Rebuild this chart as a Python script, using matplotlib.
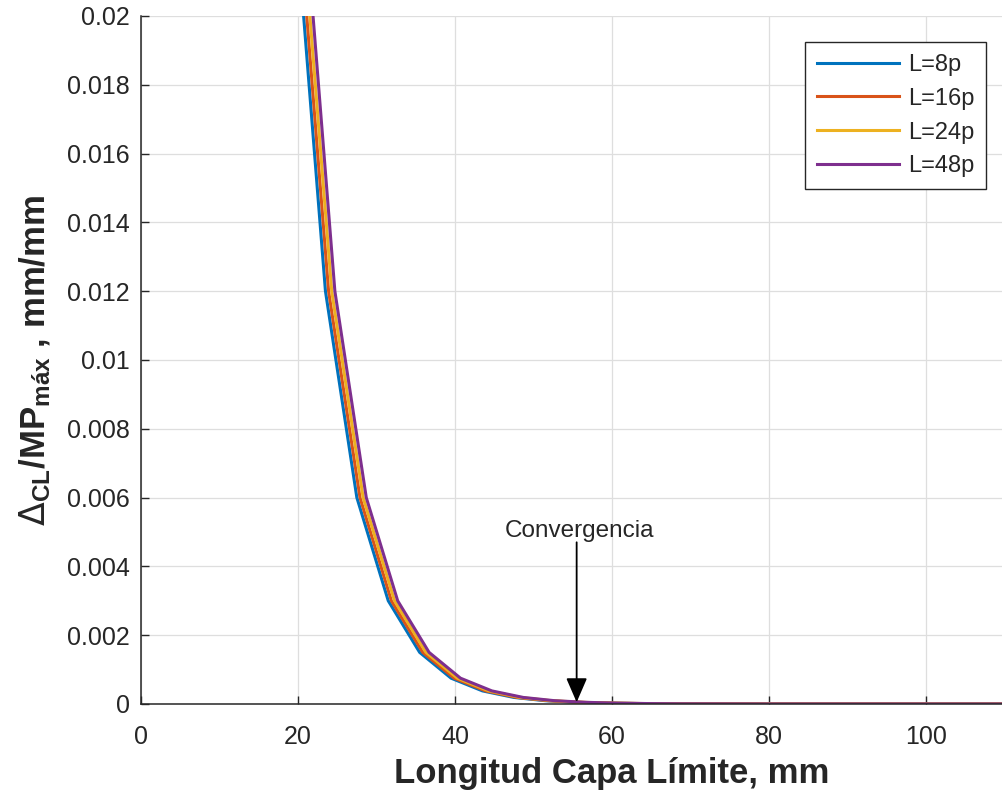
import matplotlib
matplotlib.use("Agg")
import matplotlib.pyplot as plt

# boundary-layer length sweep, one curve per mesh refinement
x_8p = [15.5, 19.5, 23.5, 27.5, 31.5, 35.5, 39.5, 43.5, 47.5, 51.5, 55.5, 59.5, 63.5, 67.5, 80, 100, 120]
x_16p = [15.9, 19.9, 23.9, 27.9, 31.9, 35.9, 39.9, 43.9, 47.9, 51.9, 55.9, 59.9, 63.9, 67.9, 80, 100, 120]
x_24p = [16.3, 20.3, 24.3, 28.3, 32.3, 36.3, 40.3, 44.3, 48.3, 52.3, 56.3, 60.3, 64.3, 68.3, 80, 100, 120]
x_48p = [16.7, 20.7, 24.7, 28.7, 32.7, 36.7, 40.7, 44.7, 48.7, 52.7, 56.7, 60.7, 64.7, 68.7, 80, 100, 120]

d_8p = [0.047, 0.0235, 0.0120, 0.0060, 0.0030, 0.0015, 0.00075, 0.00038, 0.00019,
        0.000095, 0.000048, 0.000024, 0.000012, 0.000006, 0.000001, 0.0, 0.0]
d_16p = [0.047, 0.0235, 0.0120, 0.0060, 0.0030, 0.0015, 0.00075, 0.00038, 0.00019,
         0.000095, 0.000048, 0.000024, 0.000012, 0.000006, 0.000001, 0.0, 0.0]
d_24p = [0.047, 0.0235, 0.0120, 0.0060, 0.0030, 0.0015, 0.00075, 0.00038, 0.00019,
         0.000095, 0.000048, 0.000024, 0.000012, 0.000006, 0.000001, 0.0, 0.0]
d_48p = [0.047, 0.0235, 0.0120, 0.0060, 0.0030, 0.0015, 0.00075, 0.00038, 0.00019,
         0.000095, 0.000048, 0.000024, 0.000012, 0.000006, 0.000001, 0.0, 0.0]

labels = ["L=8p", "L=16p", "L=24p", "L=48p"]
colors = ["#0072BD", "#D95319", "#EDB120", "#7E2F8E"]

x_ticks = [0, 20, 40, 60, 80, 100]
y_ticks = [0, 0.002, 0.004, 0.006, 0.008, 0.010, 0.012, 0.014, 0.016, 0.018, 0.020]
y_tick_labels = ["0", "0.002", "0.004", "0.006", "0.008", "0.01",
                 "0.012", "0.014", "0.016", "0.018", "0.02"]

conv_x = 55.5
conv_top = 0.0047
conv_tip = 0.00005

plt.rcParams["font.family"] = ["Liberation Sans", "DejaVu Sans"]
plt.rcParams["mathtext.fontset"] = "custom"
plt.rcParams["mathtext.rm"] = "Liberation Sans:bold"
plt.rcParams["mathtext.bf"] = "Liberation Sans:bold"
plt.rcParams["mathtext.it"] = "Liberation Sans:bold"
plt.rcParams["mathtext.sf"] = "DejaVu Sans"

fig = plt.figure(figsize=(10.02, 7.95), dpi=100)
ax = fig.add_axes([0.1407, 0.1145, 0.9401, 0.8654])

series = [(x_8p, d_8p), (x_16p, d_16p), (x_24p, d_24p), (x_48p, d_48p)]
for (xs, ys), lab, col in zip(series, labels, colors):
    ax.plot(xs, ys, color=col, lw=2.2, label=lab)

ax.set_xlim(0, 120)
ax.set_ylim(0, 0.02)
ax.set_xticks(x_ticks)
ax.set_yticks(y_ticks)
ax.set_yticklabels(y_tick_labels)

ax.grid(True, color="#dedede", lw=0.9)
ax.set_axisbelow(True)
for side in ["top", "right"]:
    ax.spines[side].set_visible(False)
for side in ["left", "bottom"]:
    ax.spines[side].set_color("#262626")
    ax.spines[side].set_linewidth(1.1)

ax.tick_params(direction="in", length=6, width=1.0, color="#262626",
               labelcolor="#262626", labelsize=18)
ax.tick_params(axis="x", pad=15)
ax.tick_params(axis="y", pad=8)

ax.set_xlabel("Longitud Capa Límite, mm", fontsize=25, fontweight="bold",
              color="#262626", labelpad=6)
ax.set_ylabel(r"$\mathsf{\Delta}_{CL}$/MP$_{máx}$ , mm/mm", fontsize=25,
              fontweight="bold", color="#262626", labelpad=10)

ax.annotate("", xy=(conv_x, conv_tip), xytext=(conv_x, conv_top),
            arrowprops=dict(arrowstyle="-|>,head_length=15,head_width=6.5",
                            mutation_scale=1, color="black", lw=1.3,
                            shrinkA=0, shrinkB=0))
ax.text(conv_x + 0.3, conv_top, "Convergencia", ha="center", va="bottom",
        fontsize=17.5, color="#262626")

leg = ax.legend(loc="upper right", bbox_to_anchor=(0.897, 0.962),
                borderaxespad=0, fontsize=17, handlelength=3.5,
                handletextpad=0.35, labelspacing=0.5, borderpad=0.5,
                fancybox=False, framealpha=1)
leg.get_frame().set_edgecolor("#262626")
leg.get_frame().set_linewidth(1.0)
for t in leg.get_texts():
    t.set_color("#262626")

fig.savefig("out.png", dpi=100)
